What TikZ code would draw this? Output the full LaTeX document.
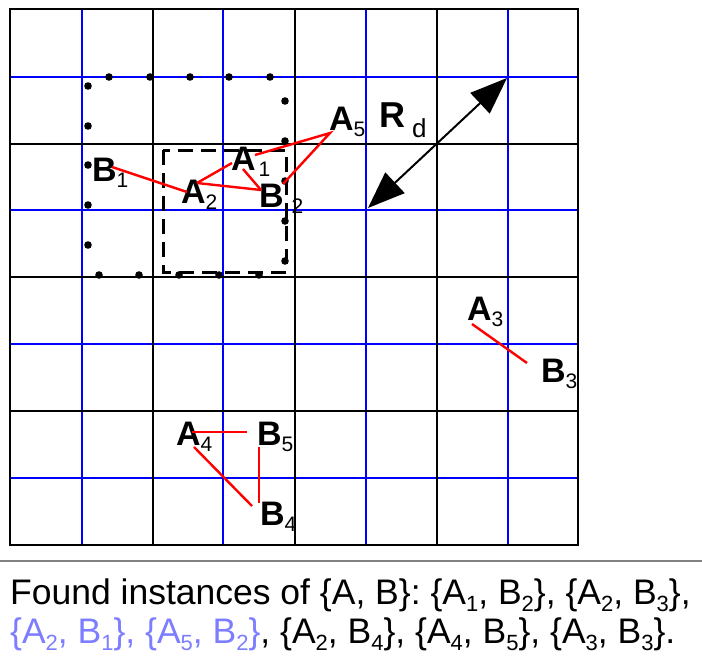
\documentclass[tikz,border=0pt]{standalone}
\usepackage{fontspec}
\setmainfont{Liberation Sans}
\newfontfamily\txtfont{Liberation Sans}
\usetikzlibrary{arrows.meta}
\definecolor{gridblue}{RGB}{0,0,255}
\definecolor{setblue}{RGB}{125,125,255}
\definecolor{sepgray}{RGB}{130,130,130}
\newcommand\lab[2]{{\fontsize{34}{34}\selectfont\bfseries #1}\raisebox{-6pt}{\fontsize{21}{21}\selectfont #2}}
\newcommand\tsub[1]{\raisebox{-7pt}{\fontsize{22}{22}\selectfont #1}}
\tikzset{
  blueline/.style={draw=gridblue, line width=2.4pt},
  blackline/.style={draw=black, line width=2.8pt},
  lbl/.style={anchor=base west, inner sep=0pt, outer sep=0pt},
  conn/.style={draw=red, line width=2.4pt},
  dotmark/.style={fill=black, draw=none},
  dashbox/.style={draw=black, line width=3pt, dash pattern=on 15pt off 8pt},
  caption/.style={anchor=base west, inner sep=0pt, font=\txtfont\fontsize{35.5}{35.5}\selectfont}
}
\begin{document}
\begin{tikzpicture}[x=1pt,y=-1pt]
\useasboundingbox (0,0) rectangle (702,659);
% grid
\foreach \x in {82,223,366,508} \draw[blueline] (\x,9) -- (\x,545);
\foreach \y in {77,210,344,478} \draw[blueline] (10,\y) -- (578,\y);
\foreach \x in {153,295,437} \draw[blackline] (\x,9) -- (\x,545);
\foreach \y in {144,277,411} \draw[blackline] (10,\y) -- (578,\y);
\draw[blackline] (10,9) rectangle (578,545);
% dotted square
\foreach \p in {(109,77),(150,77),(190,77),(229,77),(270,77),
                (285,101),(285,141),(285,181),(285,221),(285,261),
                (259,275),(219,275),(179,275),(139,275),(99,275),
                (88,245),(88,205),(88,165),(88,126),(88,86)}
  \fill[dotmark] \p circle (3.8);
% dashed square
\draw[dashbox] (163,150) rectangle (286,272);
% labels
\node[lbl] (B1) at (92,181) {\lab{B}{1}};
\node[lbl] (A2) at (181,203) {\lab{A}{2}};
\node[lbl] (A1) at (231,170) {\lab{A}{\hspace{3pt}1}};
\node[lbl] (B2) at (259,207) {\lab{B}{\hspace{8pt}2}};
\node[lbl] (A5) at (329,130) {\lab{A}{5}};
\node[lbl] (A3) at (467,320) {\lab{A}{3}};
\node[lbl] (B3) at (541,382) {\lab{B}{3}};
\node[lbl] (A4) at (176,445) {\lab{A}{4}};
\node[lbl] (B5) at (257,445) {\lab{B}{5}};
\node[lbl] (B4) at (260,525) {\lab{B}{4}};
\node[lbl] (Rd) at (379,127) {{\fontsize{36}{36}\selectfont\bfseries R}\hspace{7pt}\raisebox{-10pt}{\fontsize{26}{26}\selectfont d}};
% connector end points
\coordinate (pB1) at (112,167);
\coordinate (pA2) at (197,183);
\coordinate (pA2b) at (187,192);
\coordinate (pA1l) at (232,163);
\coordinate (pA1b) at (243,169);
\coordinate (pA1r) at (255,155);
\coordinate (pB2) at (261,190);
\coordinate (pB2r) at (283,184);
\coordinate (pA5) at (330,133);
\coordinate (pA4r) at (192,432);
\coordinate (pB5l) at (247,432);
\coordinate (pA4b) at (194,447);
\coordinate (pB4t) at (252,506);
\coordinate (pB5b) at (259,447);
\coordinate (pB4l) at (259,503);
\coordinate (pA3) at (472,324);
\coordinate (pB3) at (527,363);
% red connectors
\draw[conn] (pB1) -- (pA2b);
\draw[conn] (pA2) -- (pA1l);
\draw[conn] (pA2) -- (pB2);
\draw[conn] (pA1b) -- (pB2);
\draw[conn] (pA1r) -- (pA5) -- (pB2r);
\draw[conn] (pA4r) -- (pB5l);
\draw[conn] (pA4b) -- (pB4t);
\draw[conn] (pB5b) -- (pB4l);
\draw[conn] (pA3) -- (pB3);
% Rd arrow
\coordinate (r1) at (368,208);
\coordinate (r2) at (507,78);
\draw[line width=2pt, {Triangle[length=37pt,width=28pt]}-{Triangle[length=37pt,width=28pt]}] (r1) -- (r2);
% separator
\coordinate (s1) at (0,561);
\coordinate (s2) at (702,561);
\draw[draw=sepgray, line width=1.5pt] (s1) -- (s2);
% caption
\node[caption] (cap1) at (10,604) {Found instances of \{A, B\}: \{A\tsub{1}, B\tsub{2}\}, \{A\tsub{2}, B\tsub{3}\},};
\node[caption] (cap2) at (10,643) {\textcolor{setblue}{\{A\tsub{2}, B\tsub{1}\}, \{A\tsub{5}, B\tsub{2}\}}, \{A\tsub{2}, B\tsub{4}\}, \{A\tsub{4}, B\tsub{5}\}, \{A\tsub{3}, B\tsub{3}\}.};
\end{tikzpicture}
\end{document}
